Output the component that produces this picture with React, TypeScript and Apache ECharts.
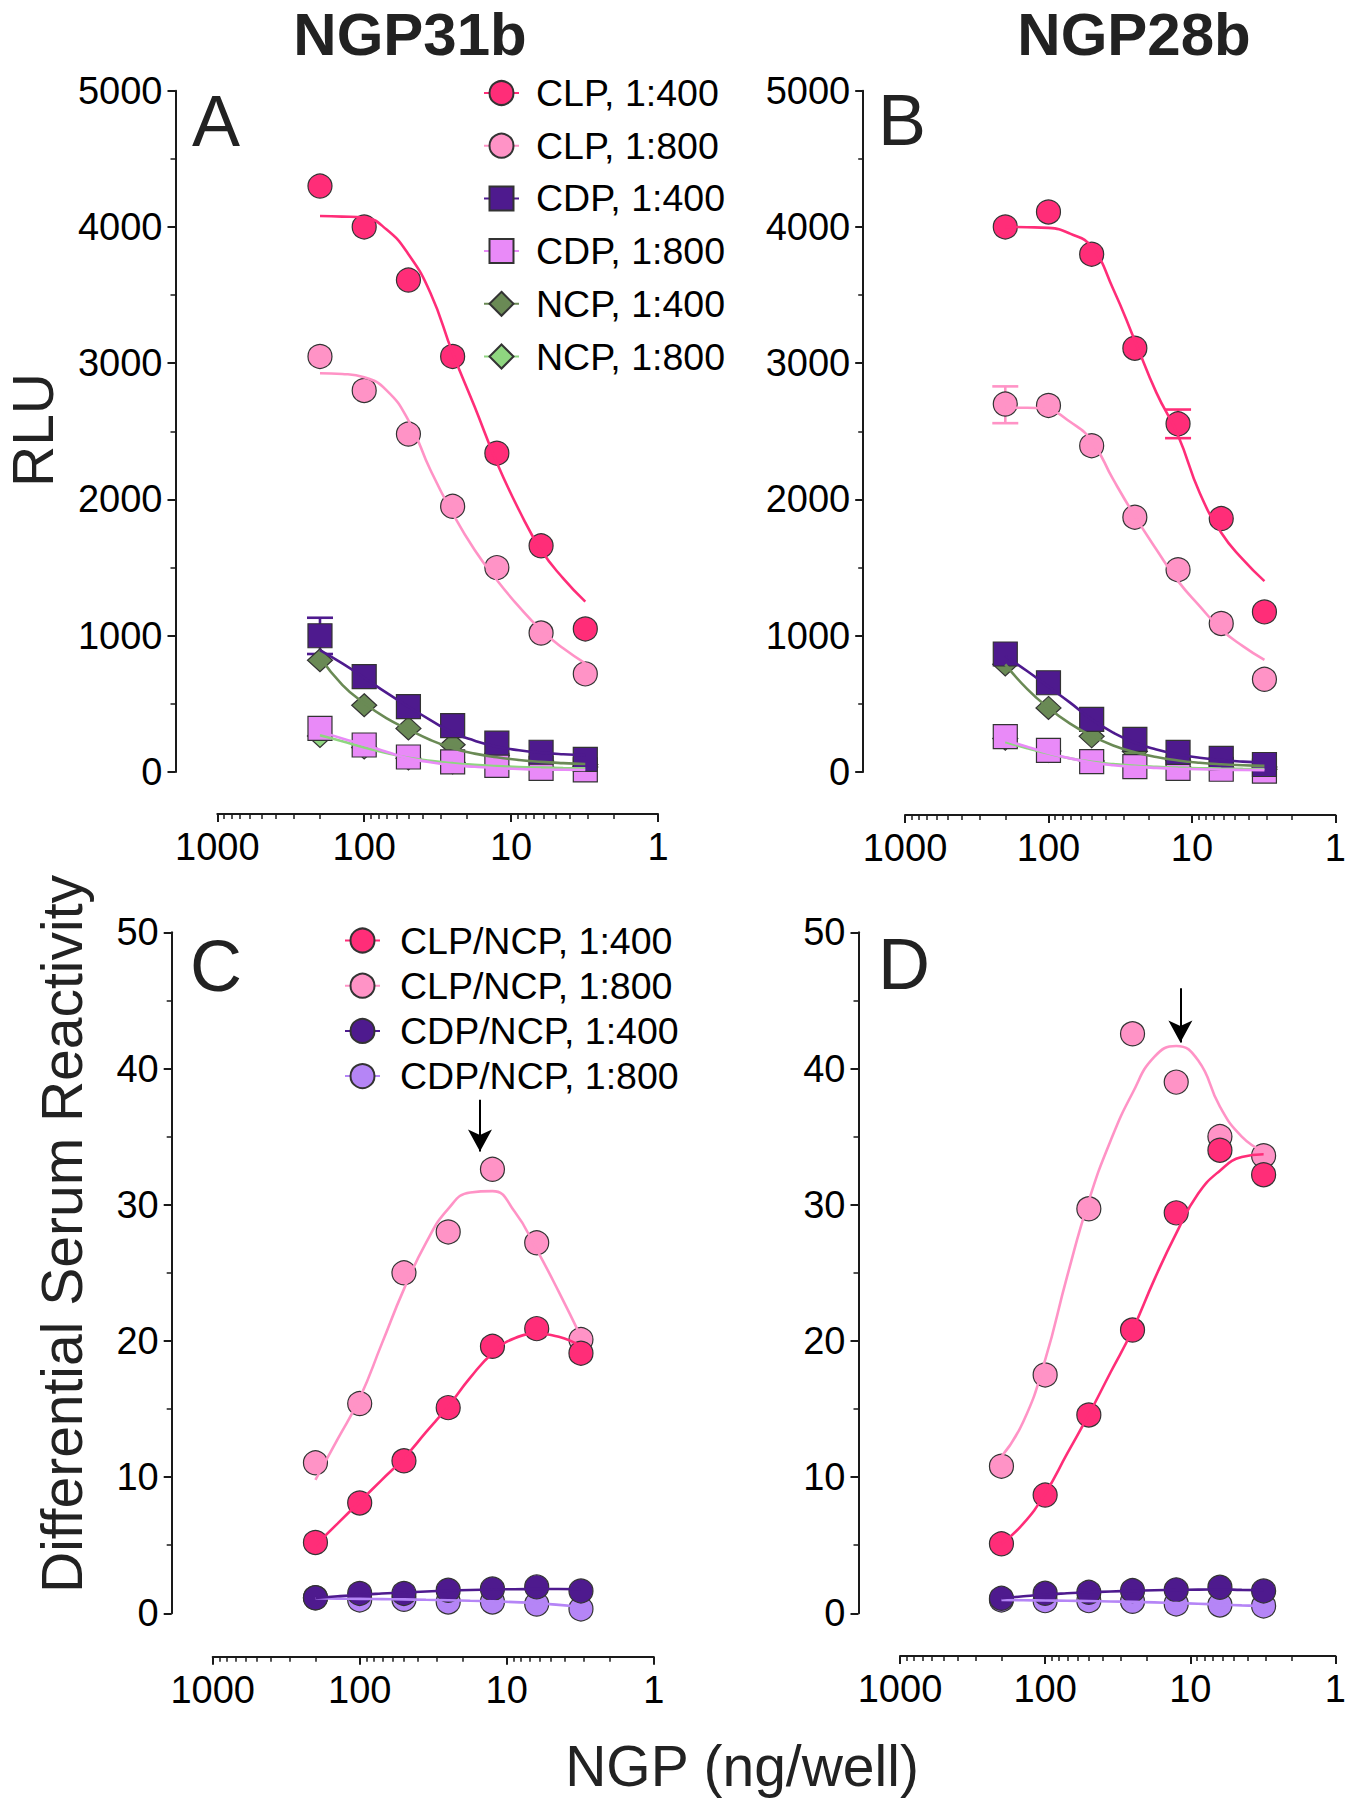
import React, { useEffect, useRef } from "react";
import * as echarts from "echarts";

// ---------- data ----------
const DOSE = [200, 100, 50, 25, 12.5, 6.25, 3.125];
const FIT_X = [200, 141, 100, 70.7, 50, 35.4, 25, 17.7, 12.5, 8.84, 6.25, 4.42, 3.125];
const X_MINOR = [2, 3, 4, 5, 6, 7, 8, 9, 20, 30, 40, 50, 60, 70, 80, 90, 200, 300, 400, 500, 600, 700, 800, 900];
const RLU_TICKS = [0, 5000, 1000];
const RATIO_TICKS = [0, 50, 10];

// Panel A (NGP31b, RLU)
const A_CLP400 = [4300, 4000, 3610, 3050, 2340, 1660, 1050];
const A_CLP800 = [3050, 2800, 2480, 1950, 1500, 1020, 720];
const A_CDP400 = [1000, 700, 480, 340, 212, 145, 93];
const A_CDP800 = [320, 198, 110, 75, 49, 27, 15];
const A_NCP400 = [820, 490, 320, 200, 120, 80, 55];
const A_NCP800 = [265, 180, 100, 70, 46, 37, 36];
const A_CLP400_FIT = [4080, 4076, 4068, 3983, 3800, 3516, 3075, 2680, 2270, 1923, 1629, 1421, 1250];
const A_CLP800_FIT = [2926, 2921, 2897, 2803, 2580, 2216, 1898, 1629, 1409, 1213, 1042, 908, 798];
const A_CDP400_FIT = [895, 797, 692, 582, 479, 381, 288, 230, 186, 160, 142, 130, 122];
const A_CDP800_FIT = [300, 245, 200, 149, 100, 72, 51, 38, 28, 22, 18, 16, 15];
const A_NCP400_FIT = [840, 640, 505, 395, 312, 235, 175, 135, 108, 88, 74, 65, 59];
const A_NCP800_FIT = [270, 225, 180, 140, 105, 82, 65, 52, 43, 36, 32, 29, 27];
const A_CDP400_ERR = [[200, 866, 1132]];

// Panel B (NGP28b, RLU)
const B_CLP400 = [4000, 4110, 3800, 3110, 2555, 1860, 1175];
const B_CLP800 = [2700, 2690, 2395, 1870, 1485, 1090, 680];
const B_CDP400 = [866, 655, 386, 240, 144, 100, 55];
const B_CDP800 = [259, 159, 76, 39, 27, 20, 7];
const B_NCP400 = [790, 470, 262, 150, 87, 55, 37];
const B_NCP800 = [245, 154, 81, 44, 38, 31, 20];
const B_CLP400_FIT = [4000, 3998, 3993, 3951, 3853, 3545, 3165, 2784, 2470, 2049, 1756, 1560, 1401];
const B_CLP800_FIT = [2673, 2673, 2656, 2570, 2430, 2147, 1878, 1633, 1401, 1218, 1046, 924, 822];
const B_CDP400_FIT = [851, 741, 626, 509, 386, 289, 215, 166, 130, 105, 88, 76, 68];
const B_CDP800_FIT = [235, 185, 140, 100, 70, 50, 38, 30, 24, 20, 17, 15, 14];
const B_NCP400_FIT = [790, 610, 470, 355, 265, 195, 145, 110, 85, 68, 57, 50, 45];
const B_NCP800_FIT = [220, 175, 135, 100, 75, 58, 46, 38, 32, 28, 25, 23, 22];
const B_CLP400_ERR = [[12.5, 2450, 2660]];
const B_CLP800_ERR = [[200, 2560, 2830]];

// Panel C (NGP31b, ratio)
const C_CLP400 = [5.2, 8.1, 11.2, 15.1, 19.6, 20.9, 19.1];
const C_CLP800 = [11.05, 15.4, 25.0, 28.0, 32.6, 27.2, 20.1];
const C_CDP400 = [1.14, 1.46, 1.46, 1.69, 1.79, 1.94, 1.64];
const C_CDP800 = [1.14, 0.98, 1.03, 0.83, 0.83, 0.68, 0.32];
const C_CLP400_FIT = [5.0, 6.6, 8.2, 9.8, 11.4, 13.3, 15.2, 17.3, 19.1, 20.2, 20.5, 20.3, 19.6];
const C_CLP800_FIT = [9.8, 12.8, 15.8, 19.8, 23.8, 27.2, 29.7, 30.9, 31.0, 29.5, 26.7, 23.6, 20.3];
const C_CDP400_FIT = [1.12, 1.25, 1.36, 1.45, 1.53, 1.6, 1.66, 1.71, 1.75, 1.77, 1.78, 1.78, 1.77];
const C_CDP800_FIT = [1.1, 1.08, 1.06, 1.04, 1.02, 0.99, 0.96, 0.92, 0.88, 0.82, 0.74, 0.62, 0.48];
const C_ARROW = [15.2, 37.7, 33.9]; // x, top, tip

// Panel D (NGP28b, ratio)
const D_CLP400 = [5.1, 8.68, 14.56, 20.8, 29.4, 34.0, 32.2];
const D_CLP800 = [10.8, 17.5, 29.7, 42.55, 39.0, 35.0, 33.6];
const D_CDP400 = [1.1, 1.47, 1.54, 1.67, 1.72, 1.91, 1.64];
const D_CDP800 = [0.98, 0.93, 0.93, 0.88, 0.69, 0.61, 0.54];
const D_CLP400_FIT = [5.1, 6.6, 8.8, 11.7, 14.6, 17.7, 20.8, 24.5, 27.9, 30.8, 32.5, 33.5, 33.7];
const D_CLP800_FIT = [11.5, 14.1, 18.6, 24.7, 30.3, 34.7, 38.2, 40.85, 41.65, 40.6, 37.2, 35.0, 33.9];
const D_CDP400_FIT = [1.1, 1.25, 1.38, 1.47, 1.54, 1.6, 1.65, 1.69, 1.72, 1.74, 1.75, 1.72, 1.7];
const D_CDP800_FIT = [0.98, 0.96, 0.94, 0.92, 0.9, 0.87, 0.84, 0.8, 0.75, 0.7, 0.64, 0.58, 0.53];
const D_ARROW = [11.7, 45.9, 41.9];

const LEGEND_A = ["CLP, 1:400", "CLP, 1:800", "CDP, 1:400", "CDP, 1:800", "NCP, 1:400", "NCP, 1:800"];
const LEGEND_C = ["CLP/NCP, 1:400", "CLP/NCP, 1:800", "CDP/NCP, 1:400", "CDP/NCP, 1:800"];

// ---------- styles ----------
const FONT = "'Liberation Sans', Arial, Helvetica, sans-serif";
const INK = "#1a1a1a";
const COL = {
  clp400: "#FF2D78",
  clp800: "#FF93C6",
  cdp400: "#4E1A8E",
  cdp800: "#E98AF8",
  ncp400: "#6A8A55",
  ncp800: "#8FD680",
  cdpncp800: "#B585F6",
};

const GRIDS = [
  { left: 217.3, top: 90.7, width: 440.7, height: 681.3, yOff: 41.8, xOff: 42 },
  { left: 905, top: 90.7, width: 440, height: 681.3, yOff: 41.8, xOff: 43 },
  { left: 212.7, top: 932.3, width: 441, height: 681, yOff: 41, xOff: 43.4 },
  { left: 900, top: 932.3, width: 440.7, height: 681, yOff: 41.5, xOff: 42.7 },
];

function fit(name: string, g: number, vals: number[], color: string, symbol: string, size: any, fill: string) {
  return {
    type: "line",
    name,
    xAxisIndex: g,
    yAxisIndex: g,
    data: FIT_X.map((x, i) => [x, vals[i]]),
    smooth: 0.5,
    showSymbol: false,
    symbol,
    symbolSize: size,
    silent: true,
    lineStyle: { color, width: 2.6 },
    itemStyle: { color: fill, borderColor: "#333", borderWidth: 1.2 },
    emphasis: { disabled: true },
  };
}

function pts(name: string, g: number, vals: number[], fill: string, symbol: string, size: any, extra: any = {}) {
  return {
    type: "scatter",
    name,
    xAxisIndex: g,
    yAxisIndex: g,
    data: DOSE.map((x, i) => [x, vals[i]]),
    symbol,
    symbolSize: size,
    silent: true,
    itemStyle: { color: fill, borderColor: "#333", borderWidth: 1.2, opacity: 1 },
    emphasis: { disabled: true },
    ...extra,
  };
}

function errBars(g: number, data: number[][], color: string) {
  return {
    type: "custom",
    xAxisIndex: g,
    yAxisIndex: g,
    silent: true,
    data,
    renderItem: (params: any, api: any) => {
      const x = api.value(0);
      const lo = api.coord([x, api.value(1)]);
      const hi = api.coord([x, api.value(2)]);
      const w = 13;
      const st = { stroke: color, lineWidth: 2.6 };
      return {
        type: "group",
        children: [
          { type: "line", shape: { x1: lo[0], y1: lo[1], x2: hi[0], y2: hi[1] }, style: st },
          { type: "line", shape: { x1: lo[0] - w, y1: lo[1], x2: lo[0] + w, y2: lo[1] }, style: st },
          { type: "line", shape: { x1: hi[0] - w, y1: hi[1], x2: hi[0] + w, y2: hi[1] }, style: st },
        ],
      };
    },
  };
}

function arrow(a: number[]) {
  return {
    silent: true,
    symbol: ["none", "arrow"],
    symbolSize: [18, 22],
    lineStyle: { color: "#000", width: 2, type: "solid" },
    itemStyle: { color: "#000" },
    label: { show: false },
    emphasis: { disabled: true },
    data: [[{ coord: [a[0], a[1]] }, { coord: [a[0], a[2]] }]],
  };
}

function yAxis(g: number, ticks: number[]) {
  return {
    type: "value",
    gridIndex: g,
    min: ticks[0],
    max: ticks[1],
    interval: ticks[2],
    offset: GRIDS[g].yOff,
    axisLine: { show: true, onZero: false, lineStyle: { color: INK, width: 2 } },
    axisTick: { show: true, length: 8, lineStyle: { color: INK, width: 2 } },
    minorTick: { show: true, splitNumber: 2, length: 5, lineStyle: { color: INK, width: 1.5 } },
    axisLabel: { fontSize: 38, color: "#000", fontFamily: FONT, margin: 13, formatter: (v: number) => String(v) },
    splitLine: { show: false },
    minorSplitLine: { show: false },
  };
}

function xMain(g: number) {
  return {
    type: "log",
    logBase: 10,
    gridIndex: g,
    min: 1,
    max: 1000,
    inverse: true,
    position: "bottom",
    offset: GRIDS[g].xOff,
    axisLine: { show: true, onZero: false, lineStyle: { color: INK, width: 2 } },
    axisTick: { show: true, length: 8, lineStyle: { color: INK, width: 2 } },
    axisLabel: { fontSize: 38, color: "#000", fontFamily: FONT, margin: 14, formatter: (v: number) => String(Math.round(v)) },
    splitLine: { show: false },
  };
}

function xMinor(g: number) {
  return {
    type: "log",
    logBase: 10,
    gridIndex: g,
    min: 1,
    max: 1000,
    inverse: true,
    position: "bottom",
    offset: GRIDS[g].xOff,
    axisLine: { show: false, onZero: false },
    axisTick: { show: true, length: 5, customValues: X_MINOR, lineStyle: { color: INK, width: 1.5 } },
    axisLabel: { show: false },
    splitLine: { show: false },
  };
}

function txt(text: string, x: number, y: number, font: string, align = "center", rotation = 0) {
  return {
    type: "text",
    x,
    y,
    rotation,
    silent: true,
    style: {
      text,
      font,
      fill: "#222",
      align,
      textAlign: align,
      verticalAlign: "middle",
      textVerticalAlign: "middle",
    },
  };
}

function buildOption() {
  const SQ = 24;
  const DI = [25, 23];
  const CI = 24;
  const series: any[] = [
    // ---- A ----
    fit("NCP, 1:800", 0, A_NCP800_FIT, COL.ncp800, "diamond", DI, COL.ncp800),
    fit("NCP, 1:400", 0, A_NCP400_FIT, COL.ncp400, "diamond", DI, COL.ncp400),
    fit("CDP, 1:800", 0, A_CDP800_FIT, COL.cdp800, "rect", SQ, COL.cdp800),
    fit("CDP, 1:400", 0, A_CDP400_FIT, COL.cdp400, "rect", SQ, COL.cdp400),
    fit("CLP, 1:800", 0, A_CLP800_FIT, COL.clp800, "circle", CI, COL.clp800),
    fit("CLP, 1:400", 0, A_CLP400_FIT, COL.clp400, "circle", CI, COL.clp400),
    errBars(0, A_CDP400_ERR, COL.cdp400),
    pts("A NCP800", 0, A_NCP800, COL.ncp800, "diamond", DI),
    pts("A NCP400", 0, A_NCP400, COL.ncp400, "diamond", DI),
    pts("A CDP800", 0, A_CDP800, COL.cdp800, "rect", SQ),
    pts("A CDP400", 0, A_CDP400, COL.cdp400, "rect", SQ),
    pts("A CLP800", 0, A_CLP800, COL.clp800, "circle", CI),
    pts("A CLP400", 0, A_CLP400, COL.clp400, "circle", CI),
    // ---- B ----
    fit("B NCP800 fit", 1, B_NCP800_FIT, COL.ncp800, "diamond", DI, COL.ncp800),
    fit("B NCP400 fit", 1, B_NCP400_FIT, COL.ncp400, "diamond", DI, COL.ncp400),
    fit("B CDP800 fit", 1, B_CDP800_FIT, COL.cdp800, "rect", SQ, COL.cdp800),
    fit("B CDP400 fit", 1, B_CDP400_FIT, COL.cdp400, "rect", SQ, COL.cdp400),
    fit("B CLP800 fit", 1, B_CLP800_FIT, COL.clp800, "circle", CI, COL.clp800),
    fit("B CLP400 fit", 1, B_CLP400_FIT, COL.clp400, "circle", CI, COL.clp400),
    errBars(1, B_CLP800_ERR, COL.clp800),
    errBars(1, B_CLP400_ERR, COL.clp400),
    pts("B NCP800", 1, B_NCP800, COL.ncp800, "diamond", DI),
    pts("B NCP400", 1, B_NCP400, COL.ncp400, "diamond", DI),
    pts("B CDP800", 1, B_CDP800, COL.cdp800, "rect", SQ),
    pts("B CDP400", 1, B_CDP400, COL.cdp400, "rect", SQ),
    pts("B CLP800", 1, B_CLP800, COL.clp800, "circle", CI),
    pts("B CLP400", 1, B_CLP400, COL.clp400, "circle", CI),
    // ---- C ----
    fit("CDP/NCP, 1:800", 2, C_CDP800_FIT, COL.cdpncp800, "circle", CI, COL.cdpncp800),
    fit("CDP/NCP, 1:400", 2, C_CDP400_FIT, COL.cdp400, "circle", CI, COL.cdp400),
    fit("CLP/NCP, 1:800", 2, C_CLP800_FIT, COL.clp800, "circle", CI, COL.clp800),
    fit("CLP/NCP, 1:400", 2, C_CLP400_FIT, COL.clp400, "circle", CI, COL.clp400),
    pts("C CDP800", 2, C_CDP800, COL.cdpncp800, "circle", CI),
    pts("C CDP400", 2, C_CDP400, COL.cdp400, "circle", CI),
    pts("C CLP800", 2, C_CLP800, COL.clp800, "circle", CI, { markLine: arrow(C_ARROW) }),
    pts("C CLP400", 2, C_CLP400, COL.clp400, "circle", CI),
    // ---- D ----
    fit("D CDP800 fit", 3, D_CDP800_FIT, COL.cdpncp800, "circle", CI, COL.cdpncp800),
    fit("D CDP400 fit", 3, D_CDP400_FIT, COL.cdp400, "circle", CI, COL.cdp400),
    fit("D CLP800 fit", 3, D_CLP800_FIT, COL.clp800, "circle", CI, COL.clp800),
    fit("D CLP400 fit", 3, D_CLP400_FIT, COL.clp400, "circle", CI, COL.clp400),
    pts("D CDP800", 3, D_CDP800, COL.cdpncp800, "circle", CI),
    pts("D CDP400", 3, D_CDP400, COL.cdp400, "circle", CI),
    pts("D CLP800", 3, D_CLP800, COL.clp800, "circle", CI, { markLine: arrow(D_ARROW) }),
    pts("D CLP400", 3, D_CLP400, COL.clp400, "circle", CI),
  ];

  const legendText = { fontSize: 37.5, color: "#000", fontFamily: FONT };

  return {
    animation: false,
    backgroundColor: "#ffffff",
    grid: GRIDS.map((g) => ({ left: g.left, top: g.top, width: g.width, height: g.height, containLabel: false })),
    xAxis: [0, 1, 2, 3].map(xMain).concat([0, 1, 2, 3].map(xMinor) as any),
    yAxis: [yAxis(0, RLU_TICKS), yAxis(1, RLU_TICKS), yAxis(2, RATIO_TICKS), yAxis(3, RATIO_TICKS)],
    legend: [
      {
        data: LEGEND_A,
        orient: "vertical",
        left: 483,
        top: 74,
        padding: 0,
        itemWidth: 35,
        itemHeight: 30,
        itemGap: 14.7,
        selectedMode: false,
        textStyle: { ...legendText, padding: [0, 0, 0, 12] },
      },
      {
        data: LEGEND_C,
        orient: "vertical",
        left: 344,
        top: 921.5,
        padding: 0,
        itemWidth: 35,
        itemHeight: 30,
        itemGap: 7.2,
        selectedMode: false,
        textStyle: { ...legendText, padding: [0, 0, 0, 15] },
      },
    ],
    graphic: [
      txt("NGP31b", 410, 34, `bold 60px ${FONT}`),
      txt("NGP28b", 1134, 34, `bold 60px ${FONT}`),
      txt("A", 192, 121, `72px ${FONT}`, "left"),
      txt("B", 878, 120, `72px ${FONT}`, "left"),
      txt("C", 190, 966, `72px ${FONT}`, "left"),
      txt("D", 878, 964, `72px ${FONT}`, "left"),
      txt("RLU", 33, 430, `57px ${FONT}`, "center", Math.PI / 2),
      txt("Differential Serum Reactivity", 62, 1234, `57px ${FONT}`, "center", Math.PI / 2),
      txt("NGP (ng/well)", 742, 1766, `57px ${FONT}`),
    ],
    series,
  };
}

export default function App() {
  const ref = useRef<HTMLDivElement>(null);
  useEffect(() => {
    if (!ref.current) return;
    const chart = echarts.init(ref.current, undefined, { renderer: "svg" });
    chart.setOption(buildOption() as any);
    return () => chart.dispose();
  }, []);
  return (
    <div
      ref={ref}
      style={{ position: "absolute", left: 0, top: 0, width: 1349, height: 1800, background: "#fff" }}
    />
  );
}
